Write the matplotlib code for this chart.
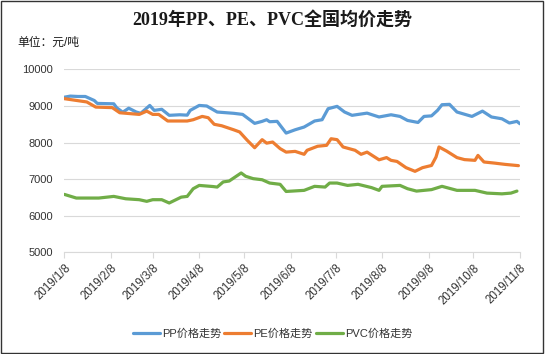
import matplotlib
matplotlib.use("Agg")
import matplotlib.pyplot as plt
import matplotlib.dates as mdates
from matplotlib.patches import Rectangle
import pandas as pd

# values (元/吨)
pp_dates = [
    "2019-01-08", "2019-01-12", "2019-01-17", "2019-01-22", "2019-01-28", "2019-01-30",
    "2019-02-10", "2019-02-12", "2019-02-16", "2019-02-20", "2019-02-25", "2019-02-28",
    "2019-03-06", "2019-03-09", "2019-03-14", "2019-03-19", "2019-03-26", "2019-03-31",
    "2019-04-02", "2019-04-08", "2019-04-13", "2019-04-20", "2019-05-01", "2019-05-07",
    "2019-05-15", "2019-05-20", "2019-05-23", "2019-05-25", "2019-05-30", "2019-06-05",
    "2019-06-11", "2019-06-17", "2019-06-24", "2019-06-29", "2019-07-03", "2019-07-09",
    "2019-07-14", "2019-07-19", "2019-07-29", "2019-08-06", "2019-08-14", "2019-08-20",
    "2019-08-25", "2019-09-01", "2019-09-05", "2019-09-10", "2019-09-14", "2019-09-17",
    "2019-09-22", "2019-09-27", "2019-10-07", "2019-10-14", "2019-10-20", "2019-10-27",
    "2019-11-01", "2019-11-06", "2019-11-08",
]
pp_values = [
    9240, 9270, 9260, 9260, 9150, 9070,
    9060, 8950, 8830, 8940, 8835, 8800,
    9015, 8880, 8910, 8745, 8760, 8750,
    8880, 9015, 9000, 8835, 8800, 8770,
    8525, 8580, 8625, 8570, 8580, 8260,
    8350, 8425, 8590, 8625, 8925, 8990,
    8835, 8745, 8805, 8700, 8760, 8715,
    8605, 8550, 8715, 8730, 8880, 9035,
    9045, 8835, 8715, 8860, 8700, 8650,
    8535, 8580, 8515,
]

pe_dates = [
    "2019-01-08", "2019-01-23", "2019-01-29", "2019-02-09", "2019-02-14", "2019-02-27",
    "2019-03-04", "2019-03-08", "2019-03-12", "2019-03-18", "2019-03-31", "2019-04-04",
    "2019-04-10", "2019-04-14", "2019-04-18", "2019-04-23", "2019-05-01", "2019-05-05",
    "2019-05-10", "2019-05-15", "2019-05-20", "2019-05-23", "2019-05-27", "2019-06-01",
    "2019-06-05", "2019-06-11", "2019-06-17", "2019-06-19", "2019-06-26", "2019-07-02",
    "2019-07-05", "2019-07-09", "2019-07-13", "2019-07-21", "2019-07-25", "2019-07-29",
    "2019-08-06", "2019-08-11", "2019-08-14", "2019-08-18", "2019-08-24", "2019-08-30",
    "2019-09-04", "2019-09-10", "2019-09-13", "2019-09-15", "2019-09-20", "2019-09-27",
    "2019-10-02", "2019-10-09", "2019-10-11", "2019-10-15", "2019-10-22", "2019-10-29",
    "2019-11-07",
]
pe_values = [
    9200, 9110, 8970, 8955, 8815, 8770,
    8860, 8770, 8770, 8590, 8590, 8625,
    8715, 8680, 8500, 8460, 8350, 8290,
    8065, 7860, 8080, 7985, 8015, 7835,
    7740, 7760, 7680, 7790, 7900, 7925,
    8105, 8080, 7880, 7790, 7680, 7740,
    7530, 7590, 7515, 7485, 7315, 7215,
    7315, 7375, 7605, 7880, 7770, 7590,
    7535, 7515, 7650, 7470, 7440, 7405,
    7370,
]

pvc_dates = [
    "2019-01-08", "2019-01-16", "2019-01-31", "2019-02-10", "2019-02-18", "2019-02-27",
    "2019-03-04", "2019-03-08", "2019-03-14", "2019-03-19", "2019-03-22", "2019-03-27",
    "2019-03-31", "2019-04-04", "2019-04-08", "2019-04-17", "2019-04-20", "2019-04-24",
    "2019-04-28", "2019-05-06", "2019-05-09", "2019-05-14", "2019-05-20", "2019-05-25",
    "2019-06-01", "2019-06-05", "2019-06-17", "2019-06-24", "2019-07-01", "2019-07-04",
    "2019-07-09", "2019-07-16", "2019-07-23", "2019-08-01", "2019-08-06", "2019-08-08",
    "2019-08-20", "2019-08-25", "2019-08-31", "2019-09-10", "2019-09-17", "2019-09-27",
    "2019-10-09", "2019-10-17", "2019-10-27", "2019-11-02", "2019-11-06",
]
pvc_values = [
    6585, 6485, 6485, 6530, 6465, 6440,
    6395, 6440, 6440, 6350, 6410, 6510,
    6530, 6740, 6830, 6800, 6785, 6925,
    6950, 7170, 7080, 7015, 6985, 6895,
    6860, 6665, 6695, 6805, 6785, 6895,
    6895, 6830, 6860, 6770, 6695, 6805,
    6830, 6740, 6675, 6715, 6805, 6695,
    6695, 6620, 6600, 6620, 6675,
]

tick_dates = [
    "2019-01-08", "2019-02-08", "2019-03-08", "2019-04-08", "2019-05-08", "2019-06-08",
    "2019-07-08", "2019-08-08", "2019-09-08", "2019-10-08", "2019-11-08",
]
tick_labels = [
    "2019/1/8", "2019/2/8", "2019/3/8", "2019/4/8", "2019/5/8", "2019/6/8",
    "2019/7/8", "2019/8/8", "2019/9/8", "2019/10/8", "2019/11/8",
]

series_names = ["PP价格走势", "PE价格走势", "PVC价格走势"]
colors = ["#5B9BD5", "#ED7D31", "#70AD47"]

CJK = ["Liberation Sans", "Noto Sans CJK SC"]
TITLE_FONT = ["Liberation Serif", "Noto Sans CJK SC"]


def main():
    fig = plt.figure(figsize=(5.45, 3.54), dpi=100)
    ax = fig.add_axes([0.118, 0.287, 0.836, 0.517])

    series = [(pp_dates, pp_values), (pe_dates, pe_values), (pvc_dates, pvc_values)]
    for (d, v), name, c in zip(series, series_names, colors):
        ax.plot(pd.to_datetime(d), v, color=c, lw=2.3, label=name,
                solid_joinstyle="round", solid_capstyle="round")

    ticks = pd.to_datetime(tick_dates)
    ax.set_xlim(ticks[0], ticks[-1])
    ax.set_ylim(5000, 10000)
    ax.set_yticks(range(5000, 10001, 1000))
    ax.set_xticks(mdates.date2num(ticks))
    ax.set_xticklabels(tick_labels, rotation=45, ha="right", rotation_mode="anchor",
                       family="Liberation Sans", fontsize=8.3, color="#333333")
    for lab in ax.get_yticklabels():
        lab.set_family("Liberation Sans")
        lab.set_fontsize(8)
        lab.set_color("#333333")

    ax.grid(axis="y", color="#D9D9D9", lw=0.8)
    ax.set_axisbelow(True)
    for s in ["top", "right", "left"]:
        ax.spines[s].set_visible(False)
    ax.spines["bottom"].set_color("#D9D9D9")
    ax.tick_params(axis="y", length=0, pad=8)
    ax.tick_params(axis="x", length=4, color="#D9D9D9", pad=3)

    fig.text(0.5, 0.943, "2019年PP、PE、PVC全国均价走势", ha="center", va="center",
             family=TITLE_FONT, fontsize=13, fontweight="bold", color="#1a1a1a")
    fig.text(0.032, 0.878, "单位：元/吨", ha="left", va="center",
             family=CJK, fontsize=8.5, color="#1a1a1a")

    fig.legend(loc="center", bbox_to_anchor=(0.5, 0.058), ncol=3, frameon=False,
               prop={"family": CJK, "size": 8}, handlelength=2.4, columnspacing=0.3,
               handletextpad=0.2, labelcolor="#333333")

    fig.patches.append(Rectangle((0.002, 0.004), 0.994, 0.992, transform=fig.transFigure,
                                 fill=False, edgecolor="#333333", lw=1))

    fig.savefig("out.png", dpi=100)
    plt.close(fig)


if __name__ == "__main__":
    main()
